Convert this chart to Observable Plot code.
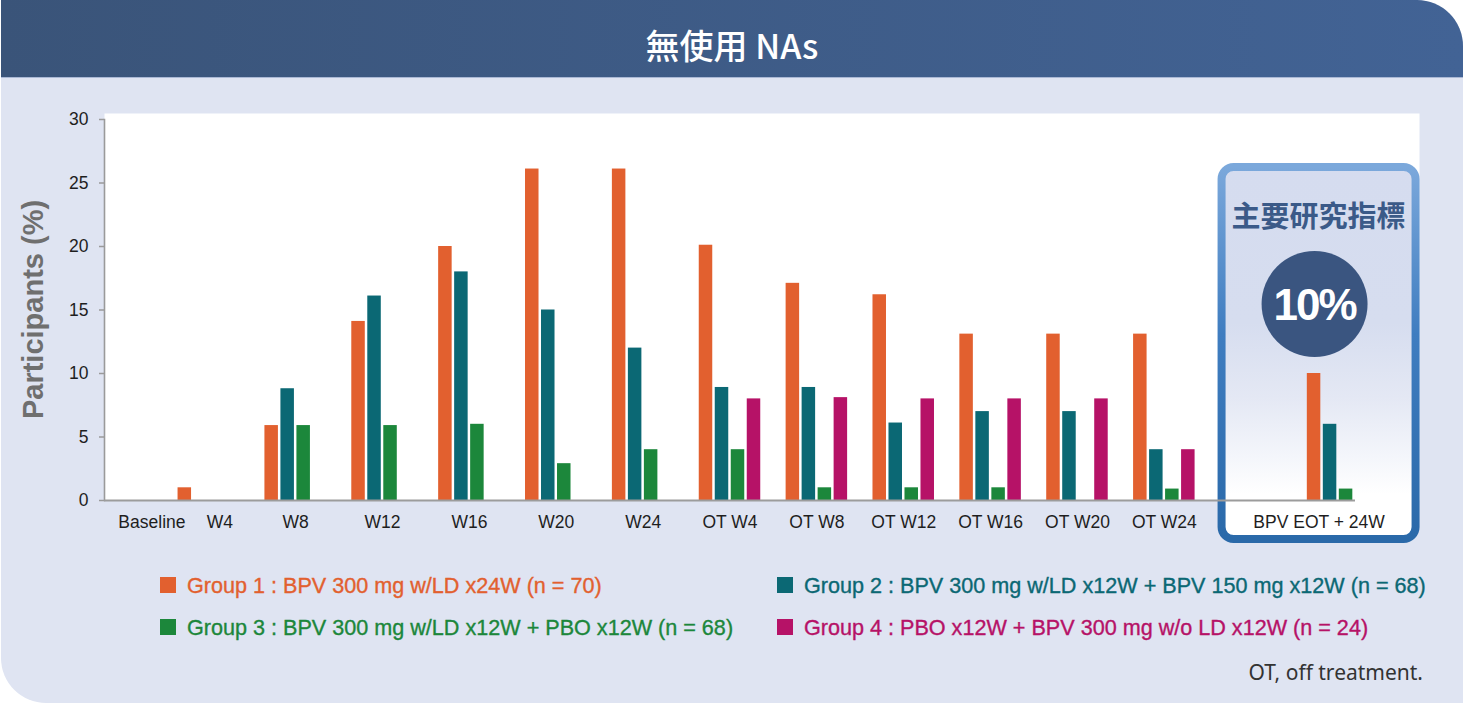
<!DOCTYPE html>
<html>
<head>
<meta charset="utf-8">
<script src="https://cdn.jsdelivr.net/npm/d3@7"></script>
<script src="https://cdn.jsdelivr.net/npm/@observablehq/plot@0.6"></script>
<style>
  html, body { margin: 0; padding: 0; background: #ffffff; }
  body { width: 1464px; height: 703px; position: relative; overflow: hidden;
         font-family: "Liberation Sans", Arial, sans-serif; }
  #card { position: absolute; left: 1px; top: 0; width: 1462px; height: 703px;
          background: #dfe4f2; border-top-right-radius: 46px; border-bottom-left-radius: 45px;
          overflow: hidden; }
  #header { position: absolute; left: 0; top: 0; width: 100%; height: 77px;
            background: linear-gradient(90deg, #3a5479, #426395);
            border-bottom: 1px solid #aab8d5; }
  #title { position: absolute; left: 0; right: 0; top: 6px; height: 77px; line-height: 77px;
           text-align: center; color: #ffffff; font-family: "Noto Sans CJK TC", sans-serif;
           font-size: 34px; font-weight: 500; }
  #chart { position: absolute; left: 0; top: 100px; }
  #legend { position: absolute; left: 160px; top: 575px; display: grid;
            grid-template-columns: 617px auto; row-gap: 21px;
            font-size: 21.6px; line-height: 21px; }
  #legend .item { white-space: nowrap; -webkit-text-stroke: 0.35px currentColor; }
  #legend .swatch { display: inline-block; width: 16px; height: 16px; margin-right: 11px;
                    vertical-align: baseline; }
  #foot { position: absolute; right: 41px; top: 662px; font-family: "Noto Sans", sans-serif;
          font-size: 21px; line-height: 21px; color: #333333; }
</style>
</head>
<body>
<div id="card"><div id="header"></div></div>
<div id="title"></div>
<div id="chart"></div>
<div id="legend"></div>
<div id="foot"></div>
<script>
// ---- data ----
const categories = ["Baseline", "W4", "W8", "W12", "W16", "W20", "W24",
  "OT W4", "OT W8", "OT W12", "OT W16", "OT W20", "OT W24", "BPV EOT + 24W"];
const group1 = [0, 1.0, 5.9, 14.1, 20.0, 26.1, 26.1, 20.1, 17.1, 16.2, 13.1, 13.1, 13.1, 10.0];
const group2 = [0, 0, 8.8, 16.1, 18.0, 15.0, 12.0, 8.9, 8.9, 6.1, 7.0, 7.0, 4.0, 6.0];
const group3 = [0, 0, 5.9, 5.9, 6.0, 2.9, 4.0, 4.0, 1.0, 1.0, 1.0, 0, 0.9, 0.9];
const group4 = [null, null, null, null, null, null, null, 8.0, 8.1, 8.0, 8.0, 8.0, 4.0, null];
const groupNames = [
  "Group 1 : BPV 300 mg w/LD x24W (n = 70)",
  "Group 2 : BPV 300 mg w/LD x12W + BPV 150 mg x12W (n = 68)",
  "Group 3 : BPV 300 mg w/LD x12W + PBO x12W (n = 68)",
  "Group 4 : PBO x12W + BPV 300 mg w/o LD x12W (n = 24)"
];
const yTicks = [0, 5, 10, 15, 20, 25, 30];
const yLabel = "Participants (%)";
const titleText = "無使用 NAs";
const highlightTitle = "主要研究指標";
const footnote = "OT, off treatment.";

// ---- styles & layout ----
const colors = ["#e2602f", "#0b6874", "#1c873b", "#b61267"];
const width = 1464, height = 460;
const margin = {top: 13, right: 45, bottom: 60, left: 104};
const xRange = [78, 1381];
const spacer = "";                       // empty slot before the highlighted period
const highlightCat = categories[categories.length - 1];
const xDomain = [...categories.slice(0, -1), spacer, highlightCat];
const band = (xRange[1] - xRange[0]) / xDomain.length;
const barWidth = 13.5, slot = 16;
const highlightShift = -19;              // highlighted label/box sit slightly left of the band centre
const fontFamily = "'Liberation Sans', Arial, sans-serif";

document.getElementById("title").textContent = titleText;
document.getElementById("foot").textContent = footnote;

const series = [group1, group2, group3, group4];
const barMarks = series.map((vals, k) => Plot.barY(
  categories.map((c, i) => ({category: c, value: vals[i]})).filter(d => d.value != null),
  {
    x: "category", y: "value", fill: colors[k],
    insetLeft: (band - barWidth) / 2, insetRight: (band - barWidth) / 2,
    dx: (k - 1.5) * slot
  }
));

// rounded panel around the primary endpoint, with its heading and value badge
function highlightPanel(index, scales, values, dims) {
  const sx = scales.x;
  const bw = typeof sx.bandwidth === "function" ? sx.bandwidth() : band;
  const cx = sx(highlightCat) + bw / 2 + highlightShift;
  const top = dims.marginTop + 54;
  const bottom = dims.height - dims.marginBottom + 39;
  const g = d3.create("svg:g");
  const defs = g.append("defs");
  const fillGrad = defs.append("linearGradient").attr("id", "panelFill")
    .attr("x1", 0).attr("y1", 0).attr("x2", 0).attr("y2", 1);
  [[0, "#d5dcef"], [0.42, "#d6ddef"], [0.62, "#e4e8f4"], [0.78, "#f4f6fb"], [0.88, "#ffffff"], [1, "#ffffff"]]
    .forEach(([o, c]) => fillGrad.append("stop").attr("offset", o).attr("stop-color", c));
  const strokeGrad = defs.append("linearGradient").attr("id", "panelStroke")
    .attr("x1", 0).attr("y1", 0).attr("x2", 0).attr("y2", 1);
  [[0, "#7ba8db"], [0.45, "#3f7dc0"], [1, "#2a69a9"]]
    .forEach(([o, c]) => strokeGrad.append("stop").attr("offset", o).attr("stop-color", c));
  g.append("rect")
    .attr("x", cx - 97).attr("y", top).attr("width", 194).attr("height", bottom - top)
    .attr("rx", 12).attr("fill", "url(#panelFill)")
    .attr("stroke", "url(#panelStroke)").attr("stroke-width", 8);
  g.append("text")
    .attr("x", cx).attr("y", top + 60)
    .attr("text-anchor", "middle")
    .attr("font-family", "'Noto Sans CJK TC', sans-serif")
    .attr("font-weight", 700).attr("font-size", 29).attr("fill", "#3b5a88")
    .text(highlightTitle);
  g.append("circle")
    .attr("cx", cx - 4).attr("cy", top + 137).attr("r", 53).attr("fill", "#3a5580");
  g.append("text")
    .attr("x", cx - 4).attr("y", top + 153)
    .attr("text-anchor", "middle")
    .attr("font-family", fontFamily).attr("font-weight", 700)
    .attr("font-size", 44).attr("letter-spacing", -2).attr("fill", "#ffffff")
    .text(`${group1[categories.indexOf(highlightCat)]}%`);
  return g.node();
}

const axisStyle = {tickSize: 0, tickPadding: 15, fontSize: 17.5, fill: "#1e1e1e", label: null};

const chart = Plot.plot({
  width, height,
  marginTop: margin.top, marginRight: margin.right,
  marginBottom: margin.bottom, marginLeft: margin.left,
  style: {background: "transparent", fontFamily, fontSize: "17.5px", overflow: "visible", color: "#1e1e1e"},
  x: {domain: xDomain, range: xRange, padding: 0, round: false, label: null},
  y: {domain: [0, 30], range: [height - margin.bottom, margin.top + 6], label: null},
  marks: [
    Plot.frame({fill: "#ffffff", stroke: "none"}),
    highlightPanel,
    Plot.frame({anchor: "left", stroke: "#9a9a9a", strokeWidth: 1.6, insetTop: 6}),
    ...barMarks,
    Plot.ruleY([0], {stroke: "#9c9c9c", strokeWidth: 2, insetRight: 64}),
    Plot.axisY({ticks: yTicks, tickSize: 5, tickPadding: 11, fontSize: 17.5,
                stroke: "#9a9a9a", strokeWidth: 1.5, fill: "#1e1e1e", label: null}),
    Plot.axisX({...axisStyle, ticks: categories.slice(2, -1)}),
    Plot.axisX({...axisStyle, ticks: [categories[0]], dx: 30}),
    Plot.axisX({...axisStyle, ticks: [categories[1]], dx: 11}),
    Plot.axisX({...axisStyle, ticks: [highlightCat], dx: highlightShift}),
    Plot.text([yLabel], {frameAnchor: "left", dx: -71, dy: 2.5, rotate: -90,
                         textAnchor: "middle", lineAnchor: "middle",
                         fontSize: 29, fontWeight: "bold", fill: "#6f6f6f"})
  ]
});
document.getElementById("chart").appendChild(chart);

// legend: two columns, group order left-to-right then top-to-bottom
const legend = d3.select("#legend");
groupNames.forEach((name, k) => {
  const item = legend.append("div").attr("class", "item").style("color", colors[k]);
  item.append("span").attr("class", "swatch").style("background", colors[k]);
  item.append("span").text(name);
});
</script>
</body>
</html>
